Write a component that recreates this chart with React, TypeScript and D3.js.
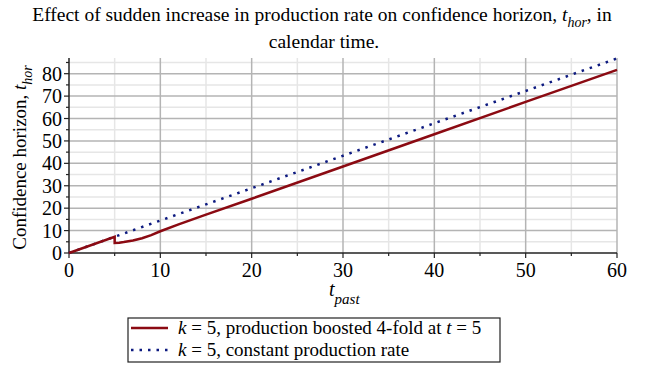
import React from "react";
import * as d3 from "d3";

// readings
const boostedT = [0, 5, 5, 5.5, 6, 7, 8, 9, 10, 12, 15, 20, 30, 40, 50, 60];
const boostedHor = [0, 7.2, 4.5, 4.6, 4.9, 5.6, 6.6, 8.0, 9.7, 12.8, 17.1, 24.2, 38.6, 53.0, 67.4, 81.7];
const constantT = [0, 10, 20, 30, 40, 50, 60];
const constantHor = [0, 14.5, 28.9, 43.4, 57.9, 72.3, 86.8];
const xTicks = [0, 10, 20, 30, 40, 50, 60];
const yTicks = [0, 10, 20, 30, 40, 50, 60, 70, 80];

const W = 654;
const H = 365;
const left = 69;
const right = 617;
const top = 58;
const bottom = 253;
const FONT = "'Liberation Serif', 'Times New Roman', serif";

export default function App() {
  const x = d3.scaleLinear().domain([0, 60]).range([left, right]);
  const y = d3.scaleLinear().domain([0, 87]).range([bottom, top]);

  const line = d3
    .line<[number, number]>()
    .x((d) => x(d[0]))
    .y((d) => y(d[1]));

  const boosted = boostedT.map((t, i) => [t, boostedHor[i]] as [number, number]);
  const constant = constantT.map((t, i) => [t, constantHor[i]] as [number, number]);

  const xMinor = d3.range(5, 60, 10);
  const yMinor = d3.range(5, 87, 10);

  return (
    <svg width={W} height={H} style={{ position: "absolute", left: 0, top: 0, fontFamily: FONT }}>
      <rect width={W} height={H} fill="white" />
      <text x={322} y={21} textAnchor="middle" fontSize={19.5}>
        Effect of sudden increase in production rate on confidence horizon, <tspan fontStyle="italic">t</tspan>
        <tspan fontStyle="italic" fontSize={14} dy={6}>hor</tspan>
        <tspan dy={-6}>, in</tspan>
      </text>
      <text x={324} y={48} textAnchor="middle" fontSize={19.5}>
        calendar time.
      </text>

      {/* grid */}
      {xMinor.map((v) => (
        <line key={"xm" + v} x1={x(v)} x2={x(v)} y1={top} y2={bottom} stroke="#e6e6e6" strokeWidth={1.5} />
      ))}
      {yMinor.map((v) => (
        <line key={"ym" + v} x1={left} x2={right} y1={y(v)} y2={y(v)} stroke="#e6e6e6" strokeWidth={1.5} />
      ))}
      {xTicks.slice(1).map((v) => (
        <line key={"xg" + v} x1={x(v)} x2={x(v)} y1={top} y2={bottom} stroke="#b4b4b4" strokeWidth={1.5} />
      ))}
      {yTicks.slice(1).map((v) => (
        <line key={"yg" + v} x1={left} x2={right} y1={y(v)} y2={y(v)} stroke="#b4b4b4" strokeWidth={1.5} />
      ))}

      {/* axes */}
      <line x1={left} x2={left} y1={top} y2={bottom} stroke="#222" strokeWidth={1.5} />
      <line x1={left} x2={right} y1={bottom} y2={bottom} stroke="#222" strokeWidth={1.5} />
      {xTicks.map((v) => (
        <g key={"xt" + v}>
          <line x1={x(v)} x2={x(v)} y1={bottom} y2={bottom + 5} stroke="#222" strokeWidth={1.2} />
          <text x={x(v)} y={bottom + 24} textAnchor="middle" fontSize={20}>
            {v}
          </text>
        </g>
      ))}
      {xMinor.map((v) => (
        <line key={"xmt" + v} x1={x(v)} x2={x(v)} y1={bottom} y2={bottom + 3} stroke="#222" strokeWidth={1.2} />
      ))}
      {yTicks.map((v) => (
        <g key={"yt" + v}>
          <line x1={left - 5} x2={left} y1={y(v)} y2={y(v)} stroke="#222" strokeWidth={1.2} />
          <text x={left - 7} y={y(v) + 7} textAnchor="end" fontSize={20}>
            {v}
          </text>
        </g>
      ))}
      {yMinor.map((v) => (
        <line key={"ymt" + v} x1={left - 3} x2={left} y1={y(v)} y2={y(v)} stroke="#222" strokeWidth={1.2} />
      ))}

      {/* series */}
      <path d={line(constant) ?? ""} fill="none" stroke="#0d1a80" strokeWidth={2.5} strokeDasharray="2.5 6" />
      <path d={line(boosted) ?? ""} fill="none" stroke="#8b0a12" strokeWidth={2.5} />

      {/* axis labels */}
      <text x={329} y={296} fontSize={20} fontStyle="italic">
        t<tspan fontSize={15} dy={8}>past</tspan>
      </text>
      <text transform={`translate(26,${(top + bottom) / 2 + 2}) rotate(-90)`} textAnchor="middle" fontSize={19}>
        Confidence horizon, <tspan fontStyle="italic">t</tspan>
        <tspan fontStyle="italic" fontSize={14} dy={6}>hor</tspan>
      </text>

      {/* legend */}
      <rect x={128} y={318} width={372} height={44} fill="white" stroke="#222" strokeWidth={1.2} />
      <line x1={131} x2={168} y1={328} y2={328} stroke="#8b0a12" strokeWidth={2.5} />
      <line x1={131} x2={168} y1={350} y2={350} stroke="#0d1a80" strokeWidth={2.5} strokeDasharray="2.5 6" />
      <text x={178} y={334} fontSize={19}>
        <tspan fontStyle="italic">k</tspan> = 5, production boosted 4-fold at <tspan fontStyle="italic">t</tspan> = 5
      </text>
      <text x={178} y={356} fontSize={19}>
        <tspan fontStyle="italic">k</tspan> = 5, constant production rate
      </text>
    </svg>
  );
}
